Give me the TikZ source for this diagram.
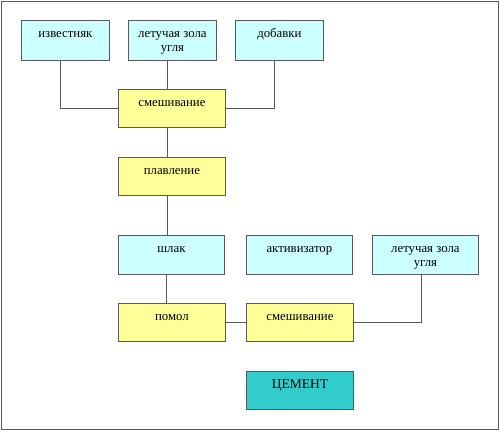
\documentclass[tikz,border=0pt]{standalone}
\usepackage{fontspec}
\setmainfont{Liberation Serif}
\usetikzlibrary{positioning}
\definecolor{rawbg}{HTML}{CCFFFF}
\definecolor{stagebg}{HTML}{FFFF99}
\definecolor{cementbg}{HTML}{33CCCC}
\definecolor{edgegray}{gray}{0.35}

\begin{document}
\begin{tikzpicture}[
      x=1pt, y=-1pt,
      font=\fontsize{12.8}{14}\selectfont,
      box/.style={draw=edgegray, line width=0.8pt, anchor=north west,
                  inner ysep=0pt, align=center, text height=17pt},
      raw/.style={box, fill=rawbg, minimum width=88pt, text depth=23pt},
      lowraw/.style={box, fill=rawbg, minimum width=106pt, text depth=22pt},
      stage/.style={box, fill=stagebg, minimum width=107pt, text depth=21pt},
      twolines/.style={text height=31pt, text depth=#1},
      link/.style={draw=edgegray, line width=0.8pt},
    ]
    \useasboundingbox (0,0) rectangle (500,431);
    \draw[edgegray, line width=1pt] (1,1) rectangle (498,429);

    % raw materials
    \node[raw] (lime) at (21,20) {известняк};
    \node[raw, twolines=9pt] (ash) at (128,20) {летучая зола\\угля};
    \node[raw] (add) at (235,20) {добавки};

    % clinker line
    \node[stage] (mix) at (118,89) {смешивание};
    \node[stage] (melt) at (118,157) {плавление};
    \node[lowraw] (slag) at (118,235) {шлак};
    \node[lowraw] (act) at (246,235) {активизатор};
    \node[lowraw, twolines=8pt] (ash2) at (372,235) {летучая зола\\угля};
    \node[stage] (grind) at (118,303) {помол};
    \node[stage] (mix2) at (246,303) {смешивание};
    \node[stage, fill=cementbg, font=\fontsize{13.5}{15}\selectfont] (cem) at (246,371) {ЦЕМЕНТ};

    \draw[link] ([xshift=-5pt]lime.south) |- (mix.west);
    \draw[link] ([xshift=-5pt]ash.south) -- ([xshift=-5pt]ash.south |- mix.north);
    \draw[link] ([xshift=-5pt]add.south) |- (mix.east);
    \draw[link] ([xshift=-5pt]mix.south) -- ([xshift=-5pt]mix.south |- melt.north);
    \draw[link] ([xshift=-5pt]melt.south) -- ([xshift=-5pt]melt.south |- slag.north);
    \draw[link] ([xshift=-5pt]slag.south) -- ([xshift=-5pt]slag.south |- grind.north);
    \draw[link] (grind.east) -- (mix2.west);
    \draw[link] ([xshift=-4pt]ash2.south) |- (mix2.east);
  \end{tikzpicture}
\end{document}
